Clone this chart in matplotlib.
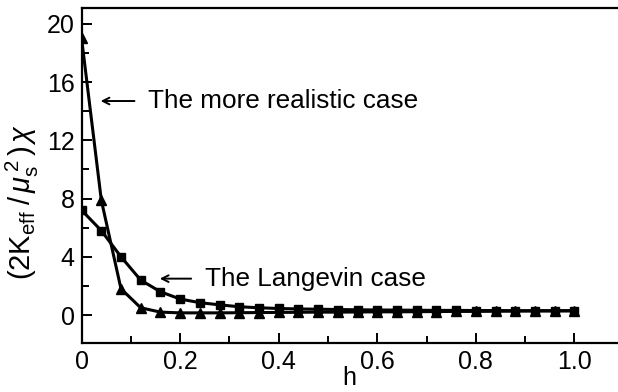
import numpy as np
import matplotlib
matplotlib.use("Agg")
import matplotlib.pyplot as plt

# field values
h = np.round(np.arange(0, 1.0001, 0.04), 2)

langevin = [7.2, 5.8, 4.0, 2.4, 1.6, 1.1, 0.85, 0.7, 0.57, 0.5, 0.45, 0.42, 0.4,
            0.38, 0.36, 0.35, 0.34, 0.33, 0.32, 0.32, 0.31, 0.31, 0.3, 0.3, 0.3, 0.3]
realistic = [19.0, 7.9, 1.8, 0.5, 0.2, 0.15, 0.15, 0.15, 0.16, 0.17, 0.18, 0.19, 0.2,
             0.2, 0.21, 0.22, 0.22, 0.23, 0.24, 0.25, 0.25, 0.26, 0.27, 0.28, 0.28, 0.29]

xticks = [0, 0.2, 0.4, 0.6, 0.8, 1.0]
xticklabels = ["0", "0.2", "0.4", "0.6", "0.8", "1.0"]
yticks = [0, 4, 8, 12, 16, 20]

plt.rcParams['font.family'] = ['Liberation Sans', 'DejaVu Sans']
plt.rcParams['mathtext.fontset'] = 'custom'
plt.rcParams['mathtext.rm'] = 'Liberation Sans'
plt.rcParams['mathtext.it'] = 'Liberation Sans:italic'

fig = plt.figure(figsize=(6.18, 3.92), dpi=100)
ax = fig.add_axes([0.132, 0.125, 0.866, 0.855])

ax.plot(h, langevin, color='black', lw=2.2, marker='s', ms=6)
ax.plot(h, realistic, color='black', lw=2.2, marker='^', ms=6.5)

ax.set_xlim(0, 1.086)
ax.set_ylim(-1.92, 21.1)
ax.set_xticks(xticks)
ax.set_xticklabels(xticklabels)
ax.set_xticks(np.arange(0.1, 1.0, 0.2), minor=True)
ax.set_yticks(yticks)
ax.set_yticks(np.arange(2, 20, 4), minor=True)

ax.spines['right'].set_visible(False)
for s in ['left', 'bottom', 'top']:
    ax.spines[s].set_linewidth(1.6)
ax.tick_params(which='both', direction='in', width=1.4, labelsize=18, top=False, right=False)
ax.tick_params(which='major', length=7, pad=5)
ax.tick_params(which='minor', length=5)

ax.set_xlabel('h', fontsize=18, labelpad=-6)
ax.set_ylabel(r'$(\mathrm{2K_{eff}}\;/\,\mu_\mathrm{s}^{\,2}\,)\,\chi$', fontsize=21)
ax.yaxis.set_label_coords(-0.076, 0.42)

arrow = dict(arrowstyle='->', color='black', lw=1.4, mutation_scale=12)
ax.annotate('', xy=(0.033, 14.7), xytext=(0.113, 14.7), arrowprops=arrow)
ax.text(0.135, 14.7, 'The more realistic case', fontsize=18.8, va='center', ha='left')
ax.annotate('', xy=(0.153, 2.5), xytext=(0.228, 2.5), arrowprops=arrow)
ax.text(0.25, 2.5, 'The Langevin case', fontsize=18.8, va='center', ha='left')

fig.savefig('out.png', dpi=100)
